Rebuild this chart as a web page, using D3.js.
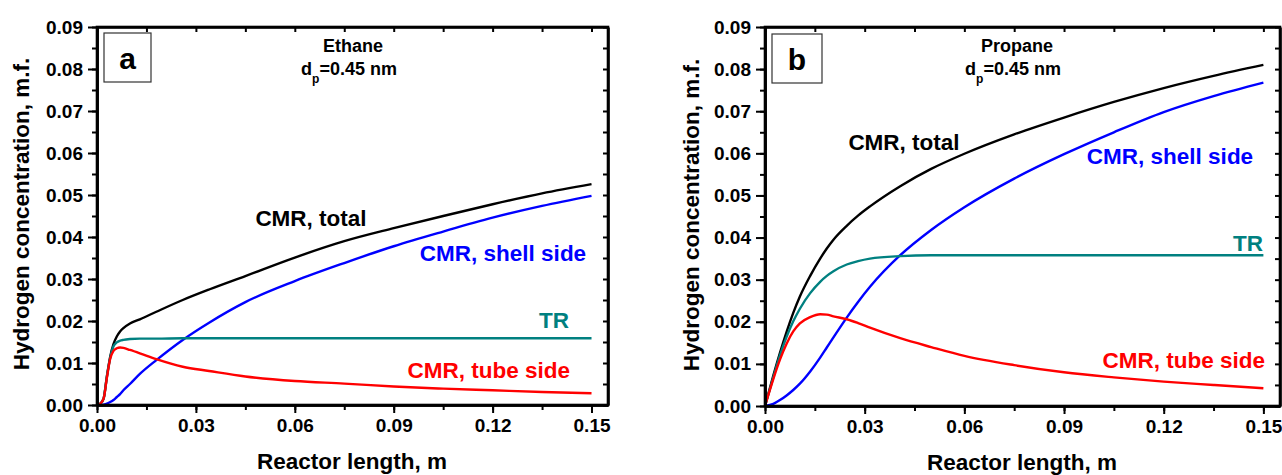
<!DOCTYPE html>
<html><head><meta charset="utf-8">
<script src="https://cdn.jsdelivr.net/npm/d3@7"></script>
<style>
body{margin:0;background:#fff;}
svg text{font-family:"Liberation Sans",Arial,sans-serif;font-weight:bold;}
</style></head>
<body><svg id="c" width="1282" height="475"></svg>
<script>
// ---------- data ----------
const yTickLabels = ["0.00","0.01","0.02","0.03","0.04","0.05","0.06","0.07","0.08","0.09"];
const xTickLabels = ["0.00","0.03","0.06","0.09","0.12","0.15"];
const seriesNames = ["CMR, total","CMR, shell side","TR","CMR, tube side"];
const seriesColors = ["#000000","#0000ff","#008080","#ff0000"];

// Panel a – Ethane
const xA = [0,0.001,0.002,0.003,0.004,0.005,0.006,0.007,0.008,0.010,0.013,0.018,0.026,0.034,0.045,0.060,0.075,0.090,0.105,0.120,0.135,0.150];
const totalA = [0,0.0003,0.0015,0.0068,0.0115,0.0145,0.0163,0.0175,0.0183,0.0194,0.0204,0.0222,0.0250,0.0275,0.0307,0.0351,0.0390,0.0421,0.0450,0.0478,0.0504,0.0526];
const shellA = [0,0,0.0001,0.0003,0.0007,0.0012,0.0019,0.0026,0.0035,0.0050,0.0074,0.0107,0.0155,0.0196,0.0245,0.0295,0.0338,0.0378,0.0413,0.0446,0.0474,0.0498];
const trA    = [0,0.0003,0.0015,0.0068,0.0112,0.0140,0.0149,0.0153,0.0155,0.0157,0.0158,0.0158,0.0159,0.0159,0.0159,0.0159,0.0159,0.0159,0.0159,0.0159,0.0159,0.0159];
const tubeA  = [0,0.0003,0.0015,0.0065,0.0110,0.0129,0.0135,0.0137,0.0136,0.0131,0.0123,0.0109,0.0091,0.0081,0.0068,0.0057,0.0051,0.0044,0.0039,0.0035,0.0031,0.0028];

// Panel b – Propane
const xB = [0,0.0025,0.0045,0.0065,0.0085,0.0105,0.0136,0.0166,0.0186,0.0206,0.0246,0.0280,0.0316,0.0407,0.050,0.060,0.075,0.090,0.105,0.120,0.135,0.150];
const totalB = [0,0.0072,0.0126,0.0176,0.0221,0.0260,0.0309,0.0350,0.0374,0.0395,0.0428,0.0452,0.0474,0.0522,0.0563,0.0599,0.0645,0.0685,0.0722,0.0755,0.0784,0.0810];
const shellB = [0,0.0005,0.0014,0.0025,0.0038,0.0053,0.0082,0.0115,0.0139,0.0163,0.0210,0.0247,0.0283,0.0358,0.0418,0.0472,0.0540,0.0598,0.0650,0.0698,0.0736,0.0768];
const trB    = [0,0.0068,0.0120,0.0164,0.0201,0.0231,0.0268,0.0295,0.0309,0.0320,0.0336,0.0344,0.0350,0.0356,0.0358,0.0358,0.0358,0.0358,0.0358,0.0358,0.0358,0.0358];
const tubeB  = [0,0.0064,0.0110,0.0148,0.0177,0.0196,0.0211,0.0218,0.0217,0.0213,0.0206,0.0197,0.0186,0.0161,0.0140,0.0119,0.0097,0.0080,0.0068,0.0058,0.0050,0.0042];

const panelLetters = ["a","b"];
const gasNames = ["Ethane","Propane"];

// ---------- layout ----------
const panels = [
  {x0:97, x1:608, y0:27, y1:405, xs:xA, ys:[totalA,shellA,trA,tubeA],
   box:[104,33,47,49], gasPos:[353,52], dpPos:[349,75],
   labels:[[311,226,"middle"],[503,261,"middle"],[569,328,"end"],[570,378,"end"]],
   yTitle:[29,214], xTitle:[352,469]},
  {x0:765, x1:1280, y0:27, y1:406, xs:xB, ys:[totalB,shellB,trB,tubeB],
   box:[772,34,50,49], gasPos:[1017,52], dpPos:[1013,75],
   labels:[[904,150,"middle"],[1170,164,"middle"],[1263,251,"end"],[1265,368,"end"]],
   yTitle:[699,215], xTitle:[1022,469.5]}
];

const svg = d3.select("#c");
const yVals = yTickLabels.map(Number);
const xVals = xTickLabels.map(Number);
const yMinor = d3.range(0,0.0901,0.005).map(v=>+v.toFixed(3));
const xMinor = d3.range(0,0.1501,0.015).map(v=>+v.toFixed(3));

panels.forEach((p,pi)=>{
  const x = d3.scaleLinear().domain([0,0.155]).range([p.x0,p.x1]);
  const y = d3.scaleLinear().domain([0,0.09]).range([p.y1,p.y0]);
  const g = svg.append("g");

  const line = d3.line().x(d=>x(d[0])).y(d=>y(d[1])).curve(d3.curveMonotoneX);
  p.ys.forEach((s,i)=>{
    g.append("path").datum(p.xs.map((xv,k)=>[xv,s[k]]))
      .attr("d",line).attr("fill","none").attr("stroke",seriesColors[i])
      .attr("stroke-width",2.4).attr("stroke-linejoin","round");
  });

  const styleAxis = (sel,lab)=>{
    sel.select(".domain").attr("stroke","#000").attr("stroke-width",2.6);
    sel.selectAll(".tick line").attr("stroke","#000").attr("stroke-width",2);
    if(lab) sel.selectAll(".tick text").attr("fill","#000").style("font-size","19px")
      .style("font-family","'Liberation Sans',Arial,sans-serif").style("font-weight","bold");
  };
  g.append("g").attr("transform",`translate(${p.x0},0)`)
    .call(d3.axisLeft(y).tickValues(yMinor).tickSize(5).tickSizeOuter(0).tickFormat(""))
    .call(s=>styleAxis(s,false));
  g.append("g").attr("transform",`translate(0,${p.y1})`)
    .call(d3.axisBottom(x).tickValues(xMinor).tickSize(5).tickSizeOuter(0).tickFormat(""))
    .call(s=>styleAxis(s,false));
  g.append("g").attr("transform",`translate(${p.x0},0)`)
    .call(d3.axisLeft(y).tickValues(yVals).tickSize(9).tickPadding(5).tickSizeOuter(0)
      .tickFormat((d,i)=>yTickLabels[i]))
    .call(s=>styleAxis(s,true));
  g.append("g").attr("transform",`translate(0,${p.y1})`)
    .call(d3.axisBottom(x).tickValues(xVals).tickSize(8).tickPadding(6).tickSizeOuter(0)
      .tickFormat((d,i)=>xTickLabels[i]))
    .call(s=>styleAxis(s,true));
  g.append("g").attr("transform",`translate(0,${p.y0})`)
    .call(d3.axisBottom(x).tickValues(xMinor).tickSize(5).tickSizeOuter(0).tickFormat(""))
    .call(s=>styleAxis(s,false));
  g.append("g").attr("transform",`translate(${p.x1},0)`)
    .call(d3.axisLeft(y).tickValues(yMinor).tickSize(5).tickSizeOuter(0).tickFormat(""))
    .call(s=>styleAxis(s,false));
  g.append("rect").attr("x",p.x0).attr("y",p.y0).attr("width",p.x1-p.x0).attr("height",p.y1-p.y0)
    .attr("fill","none").attr("stroke","#000").attr("stroke-width",2.6);

  g.append("rect").attr("x",p.box[0]).attr("y",p.box[1]).attr("width",p.box[2]).attr("height",p.box[3])
    .attr("fill","#fff").attr("stroke","#333").attr("stroke-width",1.2);
  g.append("text").attr("x",p.box[0]+p.box[2]/2).attr("y",p.box[1]+36)
    .attr("text-anchor","middle").style("font-size","30px").text(panelLetters[pi]);

  g.append("text").attr("x",p.gasPos[0]).attr("y",p.gasPos[1]).attr("text-anchor","middle")
    .style("font-size","18px").text(gasNames[pi]);
  const t = g.append("text").attr("x",p.dpPos[0]).attr("y",p.dpPos[1]).attr("text-anchor","middle")
    .style("font-size","18px");
  t.append("tspan").text("d");
  t.append("tspan").attr("dy",8).style("font-size","12px").text("p");
  t.append("tspan").attr("dy",-8).text("=0.45 nm");

  p.labels.forEach((l,i)=>{
    g.append("text").attr("x",l[0]).attr("y",l[1]).attr("text-anchor",l[2])
      .attr("fill",seriesColors[i]).style("font-size","22.5px").text(seriesNames[i]);
  });

  g.append("text").attr("transform",`translate(${p.yTitle[0]},${p.yTitle[1]}) rotate(-90)`)
    .attr("text-anchor","middle").style("font-size","22.5px").text("Hydrogen concentration, m.f.");
  g.append("text").attr("x",p.xTitle[0]).attr("y",p.xTitle[1]).attr("text-anchor","middle")
    .style("font-size","22.5px").text("Reactor length, m");
});
</script></body></html>
